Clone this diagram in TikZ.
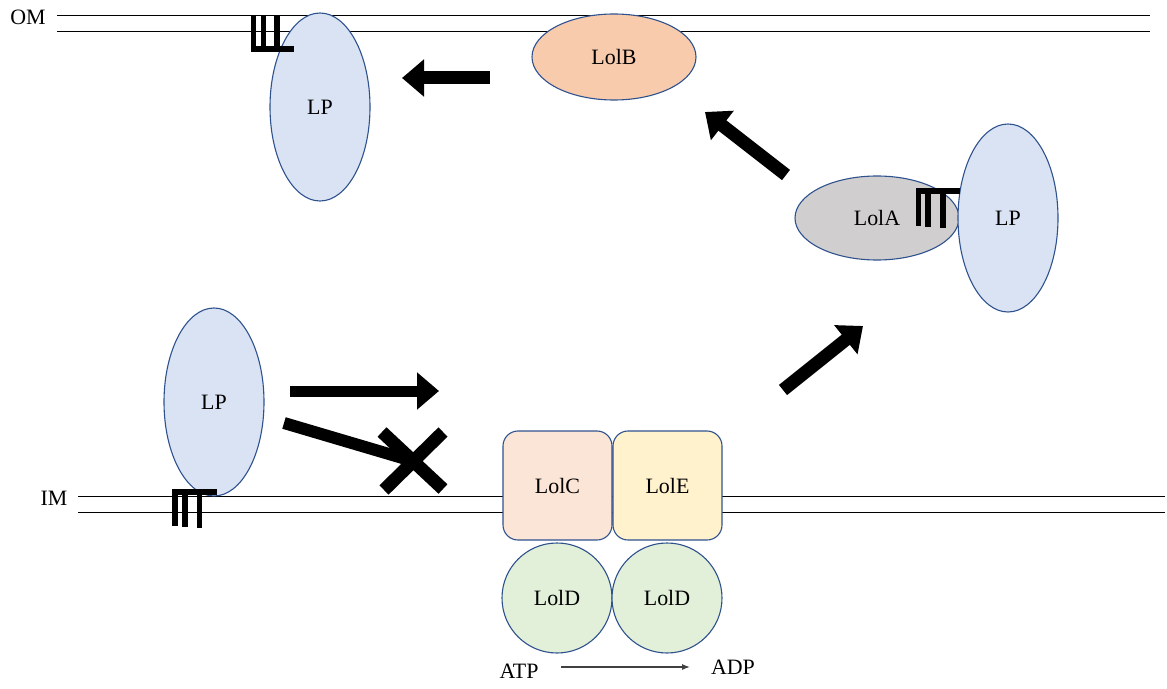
\documentclass[tikz,border=0pt]{standalone}
\usepackage{fontspec}
\setmainfont{Liberation Serif}
\usetikzlibrary{arrows.meta,shapes.geometric}
\definecolor{lpfill}{HTML}{DAE3F3}
\definecolor{edge}{HTML}{2F528F}
\definecolor{lolbfill}{HTML}{F8CBAD}
\definecolor{lolafill}{HTML}{D0CECE}
\definecolor{lolcfill}{HTML}{FBE5D6}
\definecolor{lolefill}{HTML}{FFF2CC}
\definecolor{loldfill}{HTML}{E2F0D9}
\tikzset{
  lbl/.style={font=\fontsize{22}{25}\selectfont, inner sep=0pt},
  prot/.style={ellipse, draw=edge, line width=1.1bp, lbl},
  membrane/.style={draw=black, line width=0.8bp},
  bigarrow/.style={line width=13bp, -{Triangle[width=36bp,length=22bp]}},
  anchor bar/.style={fill=black},
}
\begin{document}
\begin{tikzpicture}[x=1bp,y=-1bp]
\useasboundingbox (0,0) rectangle (1167,689);

% membranes
\draw[membrane] (57,15) -- (1150,15);
\draw[membrane] (57,31) -- (1150,31);
\node[lbl] (om) at (28,17) {OM};
\draw[membrane] (78,496) -- (1165,496);
\draw[membrane] (78,512) -- (1165,512);
\node[lbl] (im) at (54,498) {IM};

% outer membrane: LolB and anchored lipoprotein
\node[prot, fill=lpfill, minimum width=100bp, minimum height=188bp] (lpom) at (320,107) {LP};
\node[prot, fill=lolbfill, minimum width=164bp, minimum height=86bp] (lolb) at (614,57) {LolB};

% periplasm: LolA carrying the lipoprotein
\node[prot, fill=lolafill, minimum width=164bp, minimum height=84bp] (lola) at (877,218) {LolA};
\node[prot, fill=lpfill, minimum width=100bp, minimum height=188bp] (lppp) at (1008,218) {LP};

% inner membrane lipoprotein
\node[prot, fill=lpfill, minimum width=100bp, minimum height=188bp] (lpim) at (214,402) {LP};

% LolCDE complex
\node[draw=edge, line width=1.1bp, fill=lolcfill, rounded corners=15bp, minimum width=109bp, minimum height=109bp, lbl] (lolc) at (557.5,485.5) {LolC};
\node[draw=edge, line width=1.1bp, fill=lolefill, rounded corners=15bp, minimum width=109bp, minimum height=109bp, lbl] (lole) at (667.5,485.5) {LolE};
\node[circle, draw=edge, line width=1.1bp, fill=loldfill, minimum size=110bp, lbl] (lold1) at (557,598) {LolD};
\node[circle, draw=edge, line width=1.1bp, fill=loldfill, minimum size=110bp, lbl] (lold2) at (667,598) {LolD};

% ATP hydrolysis
\node[lbl] (atp) at (519,671) {ATP};
\node[lbl] (adp) at (733,667) {ADP};
\coordinate (hs) at (561,667);
\coordinate (he) at (690,667);
\draw[line width=1.2bp, black!75, -{Latex[length=8bp,width=6bp]}] (hs) -- (he);

% transport arrows
\coordinate (a1s) at (490,78);  \coordinate (a1e) at (402,78);
\coordinate (a2s) at (786,175); \coordinate (a2e) at (705,112);
\coordinate (a3s) at (783,390); \coordinate (a3e) at (863,326);
\coordinate (a4s) at (290,391); \coordinate (a4e) at (439,391);
\draw[bigarrow] (a1s) -- (a1e);
\draw[bigarrow] (a2s) -- (a2e);
\draw[bigarrow] (a3s) -- (a3e);
\draw[bigarrow, line width=11bp] (a4s) -- (a4e);

% blocked route
\coordinate (bs) at (284,423); \coordinate (be) at (416,462);
\draw[line width=12bp] (bs) -- (be);
\draw[line width=13bp] (382,432) -- (443,489);
\draw[line width=13bp] (443,432) -- (384,490);

% lipid anchors
\fill[anchor bar] (250.5,15) rectangle (256,52);
\fill[anchor bar] (260.5,15) rectangle (265.5,52);
\fill[anchor bar] (274,15) rectangle (280,52);
\fill[anchor bar] (250.5,46.5) rectangle (294,52);

\fill[anchor bar] (915.5,188) rectangle (960,194);
\fill[anchor bar] (915.5,188) rectangle (921,226);
\fill[anchor bar] (925,188) rectangle (930.5,227);
\fill[anchor bar] (940,188) rectangle (945.5,228);

\fill[anchor bar] (172,489) rectangle (216.5,495);
\fill[anchor bar] (172,489) rectangle (178,526);
\fill[anchor bar] (181.5,489) rectangle (187.5,527);
\fill[anchor bar] (196.5,489) rectangle (202,528);
\end{tikzpicture}
\end{document}
